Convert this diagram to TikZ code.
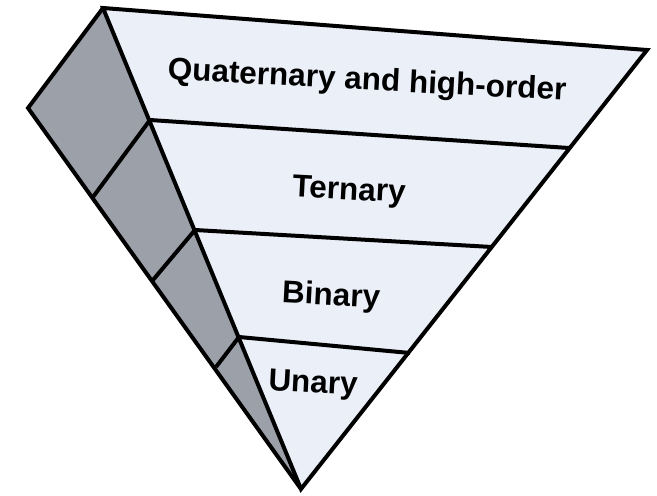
\documentclass[tikz,border=0pt]{standalone}
\usepackage{fontspec}
\setmainfont{Liberation Sans}
\definecolor{frontc}{RGB}{234,239,248}
\definecolor{sidec}{RGB}{156,160,169}
\begin{document}
\begin{tikzpicture}[x=1pt,y=-1pt,
  edge/.style={line width=4pt,black},
  lbl/.style={font=\bfseries\fontsize{31.5}{34}\selectfont,rotate=-3,inner sep=0pt}]
\useasboundingbox (0,0) rectangle (657,496);
% corners
\coordinate (T) at (103,8);
\coordinate (R) at (647,50);
\coordinate (B) at (301,489);
\coordinate (L) at (28,108);
% front-left divider points
\coordinate (F1) at (150,120);
\coordinate (F2) at (195,230);
\coordinate (F3) at (239,337);
% right edge divider points
\coordinate (R1) at (569,148);
\coordinate (R2) at (492,247);
\coordinate (R3) at (410,353);
% back edge divider points
\coordinate (K1) at (93,197);
\coordinate (K2) at (153,280);
\coordinate (K3) at (216,367);
% faces
\fill[sidec] (L) -- (T) -- (B) -- cycle;
\fill[frontc] (T) -- (R) -- (B) -- cycle;
% edges
\draw[edge] (B) -- (L) -- (T);
\draw[edge,line join=miter] (B) -- (T) -- (R) -- cycle;
\draw[edge] (F1) -- (R1);
\draw[edge] (F2) -- (R2);
\draw[edge] (F3) -- (R3);
\draw[edge] (F1) -- (K1);
\draw[edge] (F2) -- (K2);
\draw[edge] (F3) -- (K3);
% labels
\node[lbl] (q) at (367,82) {Quaternary and high-order};
\node[lbl] (t) at (349,192) {Ternary};
\node[lbl] (b) at (331,297) {Binary};
\node[lbl] (u) at (313,385) {Unary};
\end{tikzpicture}
\end{document}
